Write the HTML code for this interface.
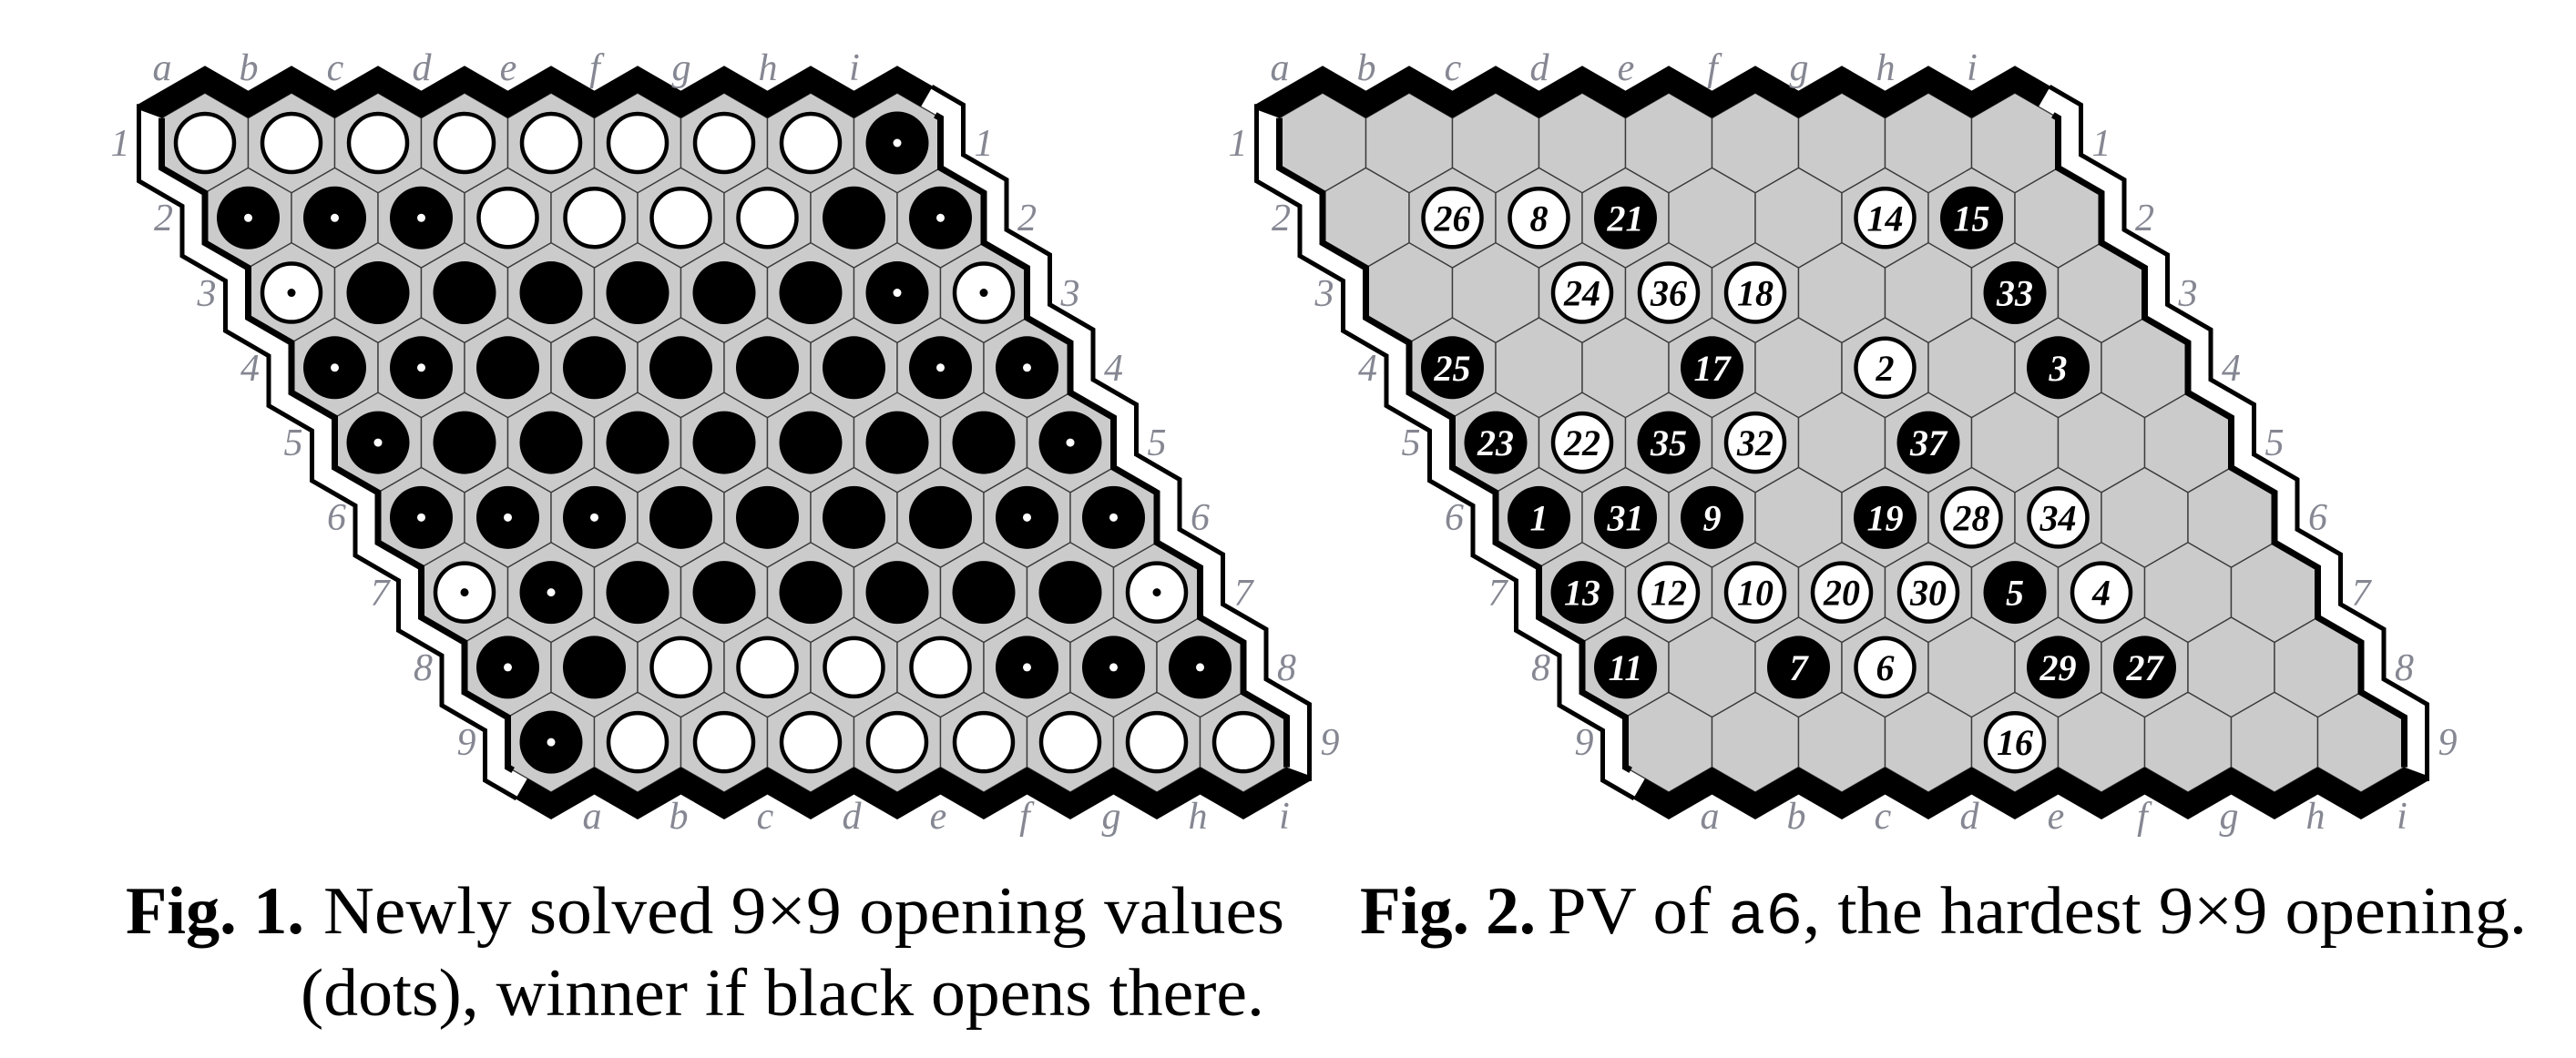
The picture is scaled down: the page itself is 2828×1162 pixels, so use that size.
<!DOCTYPE html>
<html><head><meta charset="utf-8">
<style>
html,body{margin:0;padding:0;background:#fff;}
svg{display:block;}
.lab{font-family:"Liberation Serif",serif;font-style:italic;font-size:42px;fill:#858792;text-anchor:middle;}
.num{font-family:"Liberation Serif",serif;font-style:italic;font-weight:bold;font-size:40px;text-anchor:middle;}
.cap{font-family:"Liberation Serif",serif;font-size:74px;fill:#000;}
</style></head>
<body>
<svg id="s" xmlns="http://www.w3.org/2000/svg" width="2828" height="1162" viewBox="0 0 2828 1162">
<rect width="2828" height="1162" fill="#fff"/>
<g id="geo"></g>
<g id="b2stones">
<g transform="translate(1594.5,239.3)"><circle r="32" fill="#fff" stroke="#000" stroke-width="4.5"/><text class="num" y="14" fill="#000">26</text></g>
<g transform="translate(1689.5,239.3)"><circle r="32" fill="#fff" stroke="#000" stroke-width="4.5"/><text class="num" y="14" fill="#000">8</text></g>
<g transform="translate(1784.5,239.3)"><circle r="34.5" fill="#000"/><text class="num" y="14" fill="#fff">21</text></g>
<g transform="translate(2069.5,239.3)"><circle r="32" fill="#fff" stroke="#000" stroke-width="4.5"/><text class="num" y="14" fill="#000">14</text></g>
<g transform="translate(2164.5,239.3)"><circle r="34.5" fill="#000"/><text class="num" y="14" fill="#fff">15</text></g>

<g transform="translate(1737,321.5)"><circle r="32" fill="#fff" stroke="#000" stroke-width="4.5"/><text class="num" y="14" fill="#000">24</text></g>
<g transform="translate(1832,321.5)"><circle r="32" fill="#fff" stroke="#000" stroke-width="4.5"/><text class="num" y="14" fill="#000">36</text></g>
<g transform="translate(1927,321.5)"><circle r="32" fill="#fff" stroke="#000" stroke-width="4.5"/><text class="num" y="14" fill="#000">18</text></g>
<g transform="translate(2212,321.5)"><circle r="34.5" fill="#000"/><text class="num" y="14" fill="#fff">33</text></g>

<g transform="translate(1594.5,403.8)"><circle r="34.5" fill="#000"/><text class="num" y="14" fill="#fff">25</text></g>
<g transform="translate(1879.5,403.8)"><circle r="34.5" fill="#000"/><text class="num" y="14" fill="#fff">17</text></g>
<g transform="translate(2069.5,403.8)"><circle r="32" fill="#fff" stroke="#000" stroke-width="4.5"/><text class="num" y="14" fill="#000">2</text></g>
<g transform="translate(2259.5,403.8)"><circle r="34.5" fill="#000"/><text class="num" y="14" fill="#fff">3</text></g>

<g transform="translate(1642,486.1)"><circle r="34.5" fill="#000"/><text class="num" y="14" fill="#fff">23</text></g>
<g transform="translate(1737,486.1)"><circle r="32" fill="#fff" stroke="#000" stroke-width="4.5"/><text class="num" y="14" fill="#000">22</text></g>
<g transform="translate(1832,486.1)"><circle r="34.5" fill="#000"/><text class="num" y="14" fill="#fff">35</text></g>
<g transform="translate(1927,486.1)"><circle r="32" fill="#fff" stroke="#000" stroke-width="4.5"/><text class="num" y="14" fill="#000">32</text></g>
<g transform="translate(2117,486.1)"><circle r="34.5" fill="#000"/><text class="num" y="14" fill="#fff">37</text></g>

<g transform="translate(1689.5,568.4)"><circle r="34.5" fill="#000"/><text class="num" y="14" fill="#fff">1</text></g>
<g transform="translate(1784.5,568.4)"><circle r="34.5" fill="#000"/><text class="num" y="14" fill="#fff">31</text></g>
<g transform="translate(1879.5,568.4)"><circle r="34.5" fill="#000"/><text class="num" y="14" fill="#fff">9</text></g>
<g transform="translate(2069.5,568.4)"><circle r="34.5" fill="#000"/><text class="num" y="14" fill="#fff">19</text></g>
<g transform="translate(2164.5,568.4)"><circle r="32" fill="#fff" stroke="#000" stroke-width="4.5"/><text class="num" y="14" fill="#000">28</text></g>
<g transform="translate(2259.5,568.4)"><circle r="32" fill="#fff" stroke="#000" stroke-width="4.5"/><text class="num" y="14" fill="#000">34</text></g>

<g transform="translate(1737,650.6)"><circle r="34.5" fill="#000"/><text class="num" y="14" fill="#fff">13</text></g>
<g transform="translate(1832,650.6)"><circle r="32" fill="#fff" stroke="#000" stroke-width="4.5"/><text class="num" y="14" fill="#000">12</text></g>
<g transform="translate(1927,650.6)"><circle r="32" fill="#fff" stroke="#000" stroke-width="4.5"/><text class="num" y="14" fill="#000">10</text></g>
<g transform="translate(2022,650.6)"><circle r="32" fill="#fff" stroke="#000" stroke-width="4.5"/><text class="num" y="14" fill="#000">20</text></g>
<g transform="translate(2117,650.6)"><circle r="32" fill="#fff" stroke="#000" stroke-width="4.5"/><text class="num" y="14" fill="#000">30</text></g>
<g transform="translate(2212,650.6)"><circle r="34.5" fill="#000"/><text class="num" y="14" fill="#fff">5</text></g>
<g transform="translate(2307,650.6)"><circle r="32" fill="#fff" stroke="#000" stroke-width="4.5"/><text class="num" y="14" fill="#000">4</text></g>

<g transform="translate(1784.5,732.9)"><circle r="34.5" fill="#000"/><text class="num" y="14" fill="#fff">11</text></g>
<g transform="translate(1974.5,732.9)"><circle r="34.5" fill="#000"/><text class="num" y="14" fill="#fff">7</text></g>
<g transform="translate(2069.5,732.9)"><circle r="32" fill="#fff" stroke="#000" stroke-width="4.5"/><text class="num" y="14" fill="#000">6</text></g>
<g transform="translate(2259.5,732.9)"><circle r="34.5" fill="#000"/><text class="num" y="14" fill="#fff">29</text></g>
<g transform="translate(2354.5,732.9)"><circle r="34.5" fill="#000"/><text class="num" y="14" fill="#fff">27</text></g>

<g transform="translate(2212,815.2)"><circle r="32" fill="#fff" stroke="#000" stroke-width="4.5"/><text class="num" y="14" fill="#000">16</text></g>
</g>

<!-- Board 1 labels -->
<g class="lab">
<text x="178" y="88">a</text><text x="273" y="88">b</text><text x="368" y="88">c</text><text x="463" y="88">d</text><text x="558" y="88">e</text><text x="653" y="88">f</text><text x="748" y="88">g</text><text x="843" y="88">h</text><text x="938" y="88">i</text>
<text x="650" y="910">a</text><text x="745" y="910">b</text><text x="840" y="910">c</text><text x="935" y="910">d</text><text x="1030" y="910">e</text><text x="1125" y="910">f</text><text x="1220" y="910">g</text><text x="1315" y="910">h</text><text x="1410" y="910">i</text>
<text x="132" y="171">1</text><text x="179.5" y="253">2</text><text x="227" y="336">3</text><text x="274.5" y="418">4</text><text x="322" y="500">5</text><text x="369.5" y="582">6</text><text x="417" y="665">7</text><text x="464.5" y="747">8</text><text x="512" y="829">9</text>
<text x="1080" y="171">1</text><text x="1127.5" y="253">2</text><text x="1175" y="336">3</text><text x="1222.5" y="418">4</text><text x="1270" y="500">5</text><text x="1317.5" y="582">6</text><text x="1365" y="665">7</text><text x="1412.5" y="747">8</text><text x="1460" y="829">9</text>
</g>
<!-- Board 2 labels -->
<g class="lab">
<text x="1405" y="88">a</text><text x="1500" y="88">b</text><text x="1595" y="88">c</text><text x="1690" y="88">d</text><text x="1785" y="88">e</text><text x="1880" y="88">f</text><text x="1975" y="88">g</text><text x="2070" y="88">h</text><text x="2165" y="88">i</text>
<text x="1877" y="910">a</text><text x="1972" y="910">b</text><text x="2067" y="910">c</text><text x="2162" y="910">d</text><text x="2257" y="910">e</text><text x="2352" y="910">f</text><text x="2447" y="910">g</text><text x="2542" y="910">h</text><text x="2637" y="910">i</text>
<text x="1359" y="171">1</text><text x="1406.5" y="253">2</text><text x="1454" y="336">3</text><text x="1501.5" y="418">4</text><text x="1549" y="500">5</text><text x="1596.5" y="582">6</text><text x="1644" y="665">7</text><text x="1691.5" y="747">8</text><text x="1739" y="829">9</text>
<text x="2307" y="171">1</text><text x="2354.5" y="253">2</text><text x="2402" y="336">3</text><text x="2449.5" y="418">4</text><text x="2497" y="500">5</text><text x="2544.5" y="582">6</text><text x="2592" y="665">7</text><text x="2639.5" y="747">8</text><text x="2687" y="829">9</text>
</g>

<!-- Captions -->
<text class="cap" x="138" y="1025" font-weight="bold" textLength="196" lengthAdjust="spacingAndGlyphs">Fig. 1.</text>
<text class="cap" x="355" y="1025" textLength="1055" lengthAdjust="spacingAndGlyphs">Newly solved 9×9 opening values</text>
<text class="cap" x="330" y="1115" textLength="1058" lengthAdjust="spacingAndGlyphs">(dots), winner if black opens there.</text>
<text class="cap" x="1493" y="1025" font-weight="bold" textLength="193" lengthAdjust="spacingAndGlyphs">Fig. 2.</text>
<text class="cap" x="1699" y="1025" textLength="1075" lengthAdjust="spacingAndGlyphs">PV of <tspan font-family="Liberation Mono, monospace" font-size="66">a6</tspan>, the hardest 9×9 opening.</text>
</svg>
<script>
(function(){
var NS="http://www.w3.org/2000/svg";
var geo=document.getElementById("geo");
function el(tag,attrs,parent){var e=document.createElementNS(NS,tag);for(var k in attrs)e.setAttribute(k,attrs[k]);(parent||geo).appendChild(e);return e;}
var R=54.85,H=27.42,W=47.5,DY=82.27,DX=95;
function pts(a){return a.map(function(p){return p[0].toFixed(1)+","+p[1].toFixed(1);}).join(" ");}
function borders(g){
  var P=[[177.5,129.6]];
  for(var c=0;c<9;c++){P.push([225+DX*c,102.2]);if(c<8)P.push([272.5+DX*c,129.6]);}
  P.push([1011,117.3]);P.push([1024,94.8]);
  for(var c=8;c>=0;c--){P.push([225+DX*c,72.2]);if(c>0)P.push([177.5+DX*c,99.6]);}
  P.push([152,114.3]);P.push([154,121]);
  el("polygon",{points:pts(P),fill:"#000"},g);
  var L=[];
  for(var r=0;r<9;r++){
    L.push([177.5+W*r,129.6+DY*r]);L.push([177.5+W*r,184.4+DY*r]);
  }
  L.push([563.2,845.9]);
  el("polyline",{points:pts(L),fill:"none",stroke:"#000","stroke-width":7,"stroke-linejoin":"miter"},g);
  var T=[[152.5,114.3]];
  for(var i=0;i<L.length-1;i++)T.push([L[i][0]-25,L[i][1]+14.4]);
  T.push([567,877]);
  el("polyline",{points:pts(T),fill:"none",stroke:"#000","stroke-width":5,"stroke-linejoin":"miter"},g);
}
function board(ox,data){
  var g=el("g",{});
  for(var r=0;r<9;r++)for(var c=0;c<9;c++){
    var x=225+ox+DX*c+W*r,y=157+DY*r;
    el("polygon",{points:pts([[x,y-R],[x+W,y-H],[x+W,y+H],[x,y+R],[x-W,y+H],[x-W,y-H]]),fill:"#cbcbcb",stroke:"#3a3a3a","stroke-width":1.4},g);
  }
  var b1=el("g",{transform:"translate("+ox+",0)"},g);borders(b1);
  var b2=el("g",{transform:"translate("+ox+",0) rotate(180,795,486.1)"},g);borders(b2);
  if(data){
    for(var r=0;r<9;r++)for(var c=0;c<9;c++){
      var ch=data[r][c],x=225+ox+DX*c+W*r,y=157+DY*r;
      if(ch=="W"||ch=="w"){el("circle",{cx:x,cy:y,r:32,fill:"#fff",stroke:"#000","stroke-width":4.5},g);
        if(ch=="w")el("circle",{cx:x,cy:y,r:4.5,fill:"#000"},g);}
      else {el("circle",{cx:x,cy:y,r:34.5,fill:"#000"},g);
        if(ch=="b")el("circle",{cx:x,cy:y,r:4.5,fill:"#fff"},g);}
    }
  }
}
board(0,["WWWWWWWWb","bbbWWWWBb","wBBBBBBbw","bbBBBBBbb","bBBBBBBBb","bbbBBBBbb","wbBBBBBBw","bBWWWWbbb","bWWWWWWWW"]);
board(1227,null);
})();
</script>
</body></html>
